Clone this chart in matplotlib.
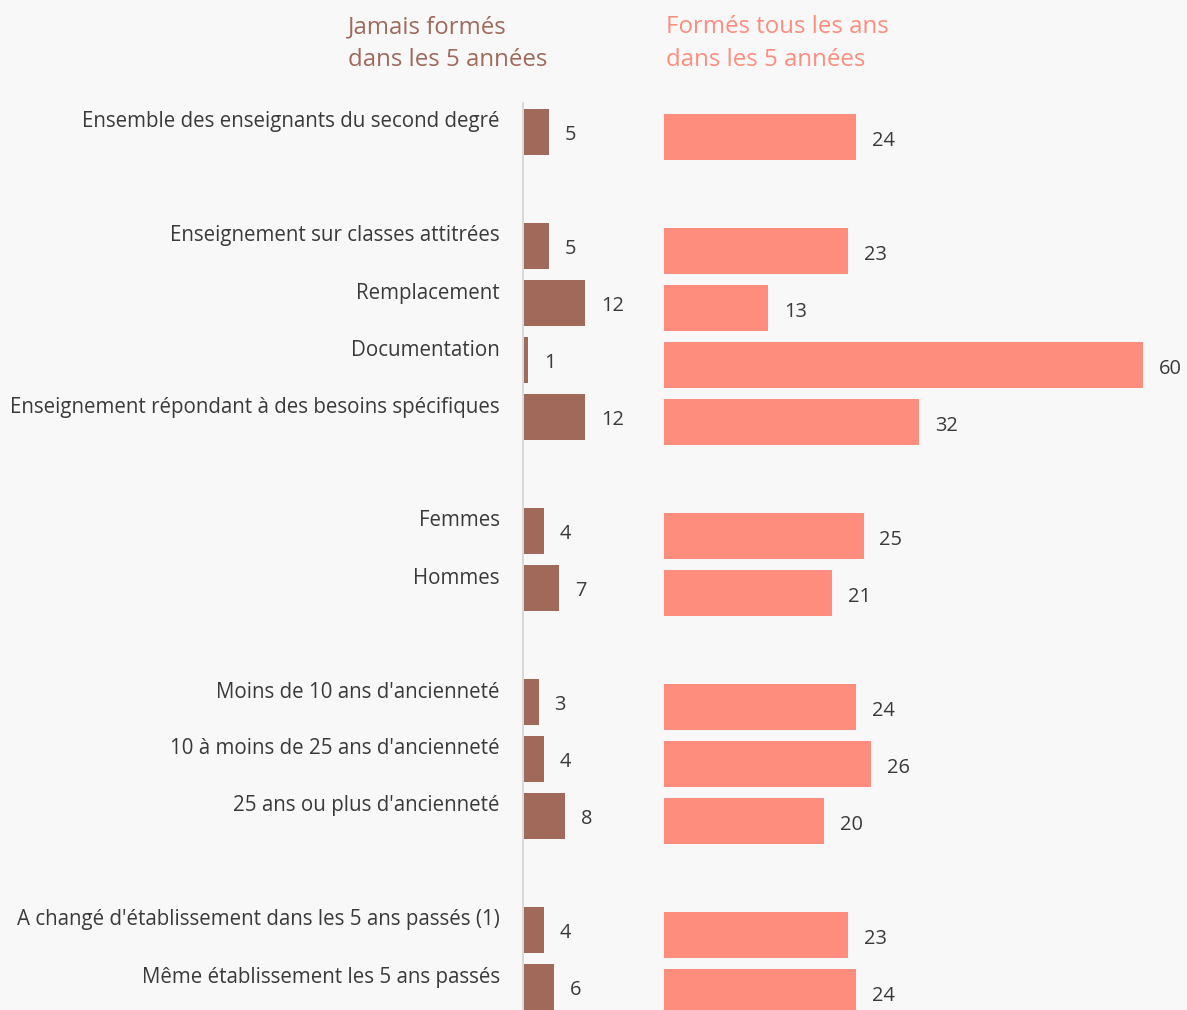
import matplotlib.pyplot as plt
import matplotlib.transforms as mtransforms

# categories (top to bottom) and their slot positions (blank slot between groups)
categories = ["Ensemble des enseignants du second degré",
              "Enseignement sur classes attitrées",
              "Remplacement",
              "Documentation",
              "Enseignement répondant à des besoins spécifiques",
              "Femmes",
              "Hommes",
              "Moins de 10 ans d'ancienneté",
              "10 à moins de 25 ans d'ancienneté",
              "25 ans ou plus d'ancienneté",
              "A changé d'établissement dans les 5 ans passés (1)",
              "Même établissement les 5 ans passés"]
slots = [0, 2, 3, 4, 5, 7, 8, 10, 11, 12, 14, 15]

jamais = [5, 5, 12, 1, 12, 4, 7, 3, 4, 8, 4, 6]
tous_ans = [24, 23, 13, 60, 32, 25, 21, 24, 26, 20, 23, 24]

title_left = ["Jamais formés", "dans les 5 années"]
title_right = ["Formés tous les ans", "dans les 5 années"]

BG = "#f8f8f8"
C_LEFT = "#a0695a"
C_RIGHT = "#ff8d7e"
TXT = "#3a3a3a"
FONT = "Open Sans"

W, H = 1187, 1010
fig = plt.figure(figsize=(W / 72, H / 72), dpi=72, facecolor=BG)
plt.rcParams['font.family'] = [FONT, 'DejaVu Sans']

def px_axes(x0, x1, y0, y1):
    # pixel box (top-left origin) -> figure fraction axes
    return fig.add_axes([x0 / W, 1 - y1 / H, (x1 - x0) / W, (y1 - y0) / H])

slot_px = 57
top, bottom = 103, 1010

# left panel: zero at x=523, 5.2 px per unit
axl = px_axes(523, 523 + 20 * 5.2, top, bottom)
axl.set_xlim(0, 20)
axl.set_ylim((bottom - 132) / slot_px, (top - 132) / slot_px)
axl.barh(slots, jamais, height=0.82, color=C_LEFT)
for s, v in zip(slots, jamais):
    axl.annotate(str(v), (v, s), xytext=(16, -3), textcoords="offset points",
                 va="center", ha="left", fontsize=20, color=TXT)

# category labels right-aligned at x=500
tr = mtransforms.blended_transform_factory(fig.transFigure, axl.transData)
for s, c in zip(slots, categories):
    axl.text(500 / W, s - 10 / slot_px, c, transform=tr, ha="right", va="center",
             fontsize=20.5, color=TXT)

# right panel: zero at x=664, 7.98 px per unit, shifted 5px down
axr = px_axes(664, 664 + 65 * 7.98, top, bottom)
axr.set_xlim(0, 65)
axr.set_ylim((bottom - 137) / slot_px, (top - 137) / slot_px)
axr.barh(slots, tous_ans, height=0.82, color=C_RIGHT)
for s, v in zip(slots, tous_ans):
    axr.annotate(str(v), (v, s), xytext=(16, -4), textcoords="offset points",
                 va="center", ha="left", fontsize=20, color=TXT)

for ax in (axl, axr):
    ax.set_xticks([])
    ax.set_yticks([])
    for sp in ax.spines.values():
        sp.set_visible(False)
    ax.patch.set_visible(False)

axl.spines["left"].set_visible(True)
axl.spines["left"].set_color("#d9d9d9")
axl.spines["left"].set_linewidth(2)

for i, (tl, trt) in enumerate(zip(title_left, title_right)):
    y = 1 - (27 + 33 * i) / H
    fig.text(348 / W, y, tl, ha="left", va="center", fontsize=24, color=C_LEFT)
    fig.text(666 / W, y, trt, ha="left", va="center", fontsize=24, color=C_RIGHT)

fig.savefig("out.png", dpi=72, facecolor=BG)
